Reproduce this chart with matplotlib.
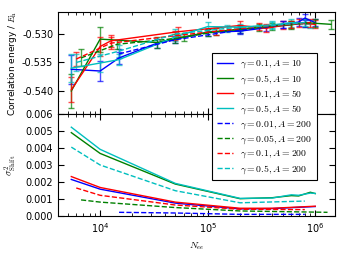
import matplotlib
matplotlib.use("Agg")
import matplotlib.pyplot as plt
from matplotlib.ticker import FormatStrFormatter

plt.rcParams["mathtext.fontset"] = "cm"
plt.rcParams["font.family"] = ["DejaVu Sans"]
plt.rcParams["font.size"] = 7

# ---- top panel: correlation energy with error bars ----
labels = [r"$\gamma=0.1,A=10$", r"$\gamma=0.5,A=10$", r"$\gamma=0.1,A=50$",
          r"$\gamma=0.5,A=50$", r"$\gamma=0.01,A=200$", r"$\gamma=0.05,A=200$",
          r"$\gamma=0.1,A=200$", r"$\gamma=0.5,A=200$"]
colors = ["b", "g", "r", "c", "b", "g", "r", "c"]
styles = ["-", "-", "-", "-", "--", "--", "--", "--"]

e_n = [
    [5400, 10000, 15000, 34000, 100000, 200000, 350000, 500000, 700000, 800000, 1000000],
    [5400, 10000, 34000, 60000, 100000, 200000, 400000, 600000, 800000, 1400000],
    [5400, 10000, 12600, 53000, 200000, 350000, 500000, 700000, 1000000],
    [5400, 10000, 15000, 50000, 100000, 200000, 400000, 600000, 900000],
    [15000, 50000, 200000, 500000, 800000],
    [6650, 14400, 50000, 120000, 300000, 600000, 1000000],
    [6000, 12600, 50000, 120000, 300000, 600000, 900000],
    [6000, 15000, 50000, 150000, 400000, 800000],
]
e_val = [
    [-0.5362, -0.5365, -0.5342, -0.5316, -0.5297, -0.5295, -0.5289, -0.5283, -0.5279, -0.5272, -0.5280],
    [-0.5400, -0.5309, -0.5315, -0.5305, -0.5297, -0.5292, -0.5287, -0.5284, -0.5280, -0.5283],
    [-0.5398, -0.5322, -0.5312, -0.5296, -0.5285, -0.5290, -0.5285, -0.5281, -0.5283],
    [-0.5360, -0.5351, -0.5345, -0.5305, -0.5287, -0.5288, -0.5284, -0.5280, -0.5282],
    [-0.5335, -0.5310, -0.5293, -0.5284, -0.5281],
    [-0.5342, -0.5318, -0.5308, -0.5296, -0.5288, -0.5283, -0.5281],
    [-0.5344, -0.5316, -0.5303, -0.5295, -0.5287, -0.5283, -0.5280],
    [-0.5350, -0.5330, -0.5300, -0.5290, -0.5285, -0.5280],
]
e_err = [
    [0.0025, 0.0018, 0.0010, 0.0008, 0.0006, 0.0005, 0.0005, 0.0006, 0.0007, 0.0008, 0.0006],
    [0.0030, 0.0022, 0.0010, 0.0007, 0.0006, 0.0006, 0.0006, 0.0007, 0.0007, 0.0008],
    [0.0022, 0.0016, 0.0010, 0.0008, 0.0008, 0.0007, 0.0007, 0.0007, 0.0007],
    [0.0025, 0.0015, 0.0010, 0.0008, 0.0008, 0.0006, 0.0006, 0.0007, 0.0007],
    [0.0008, 0.0006, 0.0005, 0.0006, 0.0006],
    [0.0015, 0.0008, 0.0008, 0.0006, 0.0006, 0.0006, 0.0007],
    [0.0012, 0.0010, 0.0008, 0.0006, 0.0006, 0.0006, 0.0007],
    [0.0015, 0.0010, 0.0008, 0.0006, 0.0006, 0.0006],
]

# ---- bottom panel: shift variance ----
s_n = [
    [5400, 10000, 50000, 200000, 400000, 1000000],
    [5400, 10000, 50000, 200000, 400000, 600000, 700000, 900000, 1000000],
    [5400, 10000, 50000, 200000, 400000, 1000000],
    [5400, 10000, 50000, 200000, 400000, 600000, 700000, 900000, 1000000],
    [15000, 50000, 200000, 800000],
    [6650, 10000, 50000, 200000, 1300000],
    [6000, 10000, 50000, 200000, 800000],
    [5400, 10000, 50000, 200000, 800000],
]
s_val = [
    [0.00215, 0.00158, 0.00076, 0.00042, 0.00044, 0.00056],
    [0.00490, 0.00368, 0.00188, 0.00102, 0.00108, 0.00120, 0.00118, 0.00140, 0.00132],
    [0.00232, 0.00168, 0.00082, 0.00046, 0.00046, 0.00058],
    [0.00522, 0.00392, 0.00192, 0.00104, 0.00106, 0.00125, 0.00122, 0.00135, 0.00133],
    [0.00022, 0.00018, 0.00010, 0.00010],
    [0.00095, 0.00082, 0.00050, 0.00030, 0.00022],
    [0.00165, 0.00122, 0.00065, 0.00040, 0.00038],
    [0.00405, 0.00300, 0.00149, 0.00078, 0.00088],
]

fig = plt.figure(figsize=(3.48, 2.56), dpi=100)
ax1 = fig.add_axes([0.167, 0.555, 0.796, 0.398])
ax2 = fig.add_axes([0.167, 0.156, 0.796, 0.399], sharex=ax1)

handles = []
for i in range(len(labels)):
    cont = ax1.errorbar(e_n[i], e_val[i], yerr=e_err[i], color=colors[i],
                        ls=styles[i], lw=1.0, elinewidth=1.0, capsize=2,
                        capthick=1.0)
    for art in cont[1] + cont[2]:
        art.set_alpha(0.7)
    h, = ax2.plot(s_n[i], s_val[i], color=colors[i], ls=styles[i], lw=1.0,
                  label=labels[i])
    handles.append(h)

ax1.set_xscale("log")
ax1.set_xlim(4070, 1.53e6)
ax1.set_ylim(-0.54404, -0.52614)
ax1.set_yticks([-0.540, -0.535, -0.530])
ax1.yaxis.set_major_formatter(FormatStrFormatter("%.3f"))
ax1.set_ylabel(r"Correlation energy / $E_\mathrm{h}$", fontsize=6.5)
plt.setp(ax1.get_xticklabels(), visible=False)

ax2.set_ylim(0, 0.006)
ax2.set_yticks([0.000, 0.001, 0.002, 0.003, 0.004, 0.005, 0.006])
ax2.yaxis.set_major_formatter(FormatStrFormatter("%.3f"))
ax2.set_ylabel(r"$\sigma^2_\mathrm{Shift}$", fontsize=7)
ax2.set_xlabel(r"$N_{ee}$", fontsize=7)

for ax in (ax1, ax2):
    ax.tick_params(which="both", direction="in", top=True, right=True,
                   labelsize=7)
    ax.tick_params(which="major", length=4)
    ax.tick_params(which="minor", length=2)
    ax.yaxis.set_label_coords(-0.14, 0.5)

# legend spans both panels, so attach it to the figure
leg = fig.legend(handles=handles, loc="upper left",
                 bbox_to_anchor=(0.596, 0.811),
                 fontsize=7, handlelength=1.6, labelspacing=0.25,
                 borderpad=0.5, fancybox=False, framealpha=1.0)
leg.get_frame().set_edgecolor("black")
leg.get_frame().set_linewidth(0.8)

fig.savefig("out.png", dpi=100)
